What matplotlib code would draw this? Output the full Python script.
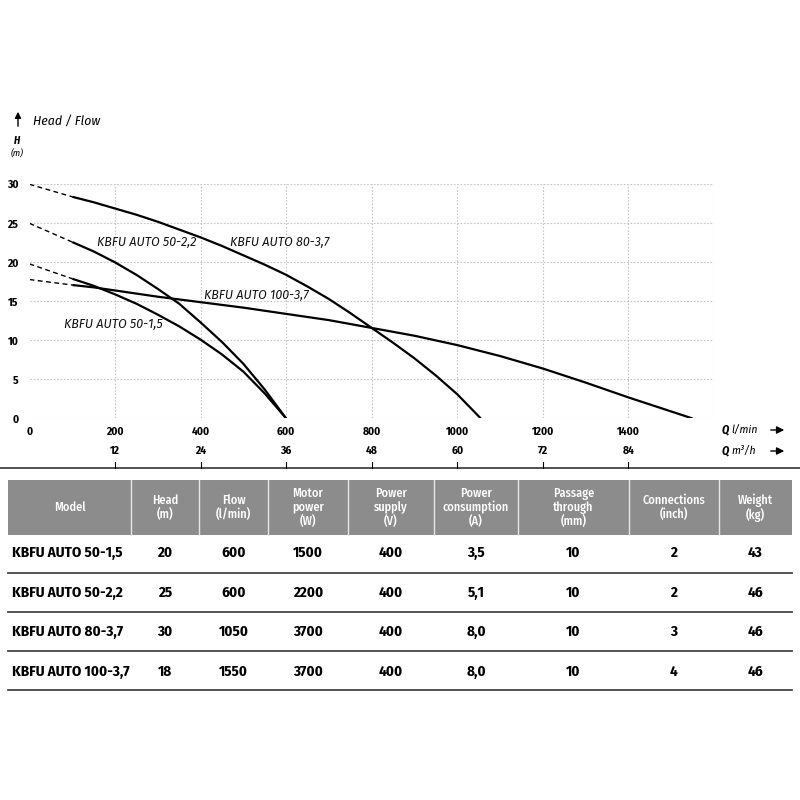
import matplotlib
matplotlib.use("Agg")
import matplotlib.pyplot as plt
import numpy as np

FONT_C = ['Fira Sans Condensed', 'Roboto Condensed', 'DejaVu Sans']
FONT_I = ['Fira Sans', 'Open Sans', 'DejaVu Sans']
plt.rcParams['font.family'] = FONT_C

# ---------------- data ----------------
models = ["KBFU AUTO 50-1,5", "KBFU AUTO 50-2,2", "KBFU AUTO 80-3,7", "KBFU AUTO 100-3,7"]

q_50_15 = [0, 100, 150, 200, 250, 300, 350, 400, 450, 500, 550, 600]
h_50_15 = [19.8, 17.9, 17.0, 15.9, 14.7, 13.3, 11.8, 10.1, 8.2, 6.0, 3.2, 0.0]

q_50_22 = [0, 100, 150, 200, 250, 300, 350, 400, 450, 500, 550, 600]
h_50_22 = [25.0, 22.6, 21.4, 20.0, 18.4, 16.6, 14.7, 12.3, 9.8, 7.0, 3.7, 0.0]

q_80_37 = [0, 100, 150, 200, 250, 300, 350, 400, 450, 500, 550, 600, 650, 700, 750, 800,
           850, 900, 950, 1000, 1055]
h_80_37 = [30.0, 28.4, 27.7, 26.9, 26.1, 25.2, 24.2, 23.2, 22.1, 20.9, 19.7, 18.4, 16.9, 15.3,
           13.5, 11.6, 9.7, 7.7, 5.5, 3.1, 0.0]

q_100_37 = [0, 100, 150, 200, 250, 300, 350, 400, 450, 500, 550, 600, 650, 700, 750, 800,
            850, 900, 950, 1000, 1050, 1100, 1150, 1200, 1250, 1300, 1350, 1400, 1450, 1500, 1550]
h_100_37 = [17.8, 17.1, 16.8, 16.4, 16.0, 15.6, 15.25, 14.9, 14.55, 14.2, 13.8, 13.4, 13.0, 12.6,
            12.1, 11.6, 11.1, 10.6, 10.0, 9.4, 8.7, 8.0, 7.2, 6.4, 5.5, 4.6, 3.65, 2.7, 1.8, 0.9, 0.0]

curves = [(q_50_15, h_50_15), (q_50_22, h_50_22), (q_80_37, h_80_37), (q_100_37, h_100_37)]
dash_end_q = 100  # curves are dashed from 0 up to this flow

x_ticks_lmin = [0, 200, 400, 600, 800, 1000, 1200, 1400]
x_ticks_m3h = [12, 24, 36, 48, 60, 72, 84]
y_ticks = [0, 5, 10, 15, 20, 25, 30]

label_pos = {  # (Q, H) of curve label
    "KBFU AUTO 50-2,2": (274, 22.6),
    "KBFU AUTO 80-3,7": (585, 22.6),
    "KBFU AUTO 100-3,7": (531, 15.8),
    "KBFU AUTO 50-1,5": (195, 12.0),
}

col_headers = ["Model", "Head\n(m)", "Flow\n(l/min)", "Motor\npower\n(W)", "Power\nsupply\n(V)",
               "Power\nconsumption\n(A)", "Passage\nthrough\n(mm)", "Connections\n(inch)", "Weight\n(kg)"]
head_m = ["20", "25", "30", "18"]
flow_lmin = ["600", "600", "1050", "1550"]
motor_w = ["1500", "2200", "3700", "3700"]
supply_v = ["400", "400", "400", "400"]
consumption_a = ["3,5", "5,1", "8,0", "8,0"]
passage_mm = ["10", "10", "10", "10"]
connections_inch = ["2", "2", "3", "4"]
weight_kg = ["43", "46", "46", "46"]

# ---------------- figure ----------------
fig = plt.figure(figsize=(8, 8), dpi=100)
W, H = 800, 800

ov = fig.add_axes([0, 0, 1, 1])
ov.set_xlim(0, W)
ov.set_ylim(H, 0)
ov.axis('off')

x0, x1 = 29.5, 714.0
y0, y1 = 418.5, 184.3
ax = fig.add_axes([x0 / W, 1 - y0 / H, (x1 - x0) / W, (y0 - y1) / H])
ax.set_xlim(0, 1600)
ax.set_ylim(0, 30)
ax.patch.set_alpha(0)
for s in ax.spines.values():
    s.set_visible(False)

grid_kw = dict(color='#c4c4c4', lw=0.8, ls=(0, (1.5, 1.5)), zorder=0)
for g in range(200, 1601, 200):
    ax.plot([g, g], [0, 30], **grid_kw)
for g in y_ticks:
    ax.plot([0, 1600], [g, g], **grid_kw)

for q, h in curves:
    q = np.array(q, float)
    h = np.array(h, float)
    m = q <= dash_end_q
    ax.plot(q[m], h[m], color='black', lw=1.0, ls=(0, (3.5, 2.5)), zorder=3)
    ax.plot(q[q >= dash_end_q], h[q >= dash_end_q], color='black', lw=1.6, zorder=3,
            solid_joinstyle='round', solid_capstyle='butt')

for name, (lq, lh) in label_pos.items():
    ax.text(lq, lh, name, fontsize=9.0, style='italic', ha='center', va='center',
            color='#111111', family=FONT_I)

ax.set_xticks(x_ticks_lmin)
ax.set_xticklabels([str(v) for v in x_ticks_lmin], fontsize=8.2, fontweight='bold')
ax.set_yticks(y_ticks)
ax.set_yticklabels([str(v) for v in y_ticks], fontsize=8.2, fontweight='bold')
ax.tick_params(axis='x', length=0, pad=6)
ax.tick_params(axis='y', length=0, pad=8)

tr = ax.get_xaxis_transform()
for qv, lab in zip(x_ticks_lmin[1:], x_ticks_m3h):
    ax.text(qv, (y0 - 451) / (y0 - y1), str(lab), transform=tr, ha='center', va='center',
            fontsize=8.2, fontweight='bold', clip_on=False)
    ax.plot([qv, qv], [(y0 - 462) / (y0 - y1), (y0 - 468) / (y0 - y1)], transform=tr,
            color='black', lw=0.8, clip_on=False)

# axis titles / arrows
ov.annotate('', xy=(18, 109), xytext=(18, 129),
            arrowprops=dict(arrowstyle='-|>', color='black', lw=1.0, mutation_scale=9))
ov.text(33, 121, "Head / Flow", fontsize=9.8, style='italic', va='center', ha='left')
ov.text(17, 141, "H", fontsize=7.5, style='italic', fontweight='bold', va='center', ha='center')
ov.text(17, 154, "(m)", fontsize=7, style='italic', va='center', ha='center')

ov.text(722, 430, "Q", fontsize=8.4, style='italic', fontweight='bold', va='center', ha='left')
ov.text(731, 430, "l/min", fontsize=8.4, style='italic', va='center', ha='left')
ov.text(722, 451, "Q", fontsize=8.4, style='italic', fontweight='bold', va='center', ha='left')
ov.text(731, 451, "m³/h", fontsize=8.4, style='italic', va='center', ha='left')
for yy in (430, 451):
    ov.annotate('', xy=(787, yy), xytext=(768, yy),
                arrowprops=dict(arrowstyle='-|>', color='black', lw=1.0, mutation_scale=11))

ov.plot([0, 800], [468, 468], color='#333333', lw=1.2)

# ---------------- table ----------------
col_edges = [8, 131, 199, 268, 348, 434, 518, 629, 719, 792]
hdr_top, hdr_bot = 480, 535
ov.add_patch(plt.Rectangle((col_edges[0], hdr_top), col_edges[-1] - col_edges[0], hdr_bot - hdr_top,
                           facecolor='#8c8c8c', edgecolor='none'))
for xe in col_edges[1:-1]:
    ov.plot([xe, xe], [hdr_top, hdr_bot], color='#e6e6e6', lw=1.0)

for i, htxt in enumerate(col_headers):
    cx = (col_edges[i] + col_edges[i + 1]) / 2
    ov.text(cx, (hdr_top + hdr_bot) / 2, htxt, color='white', fontsize=8.8, fontweight=500,
            ha='center', va='center', linespacing=1.1)

columns = [models, head_m, flow_lmin, motor_w, supply_v, consumption_a, passage_mm,
           connections_inch, weight_kg]
row_y = [553, 593, 632, 672]
row_lines = [573, 612, 651, 690]
for r, yy in enumerate(row_y):
    for c, col in enumerate(columns):
        if c == 0:
            ov.text(12, yy, col[r], fontsize=10.8, fontweight='bold', ha='left', va='center')
        else:
            cx = (col_edges[c] + col_edges[c + 1]) / 2
            ov.text(cx, yy, col[r], fontsize=10.8, fontweight='bold', ha='center', va='center')
for yl in row_lines:
    ov.plot([col_edges[0], col_edges[-1]], [yl, yl], color='#444444', lw=1.3)

fig.savefig("out.png", dpi=100)
